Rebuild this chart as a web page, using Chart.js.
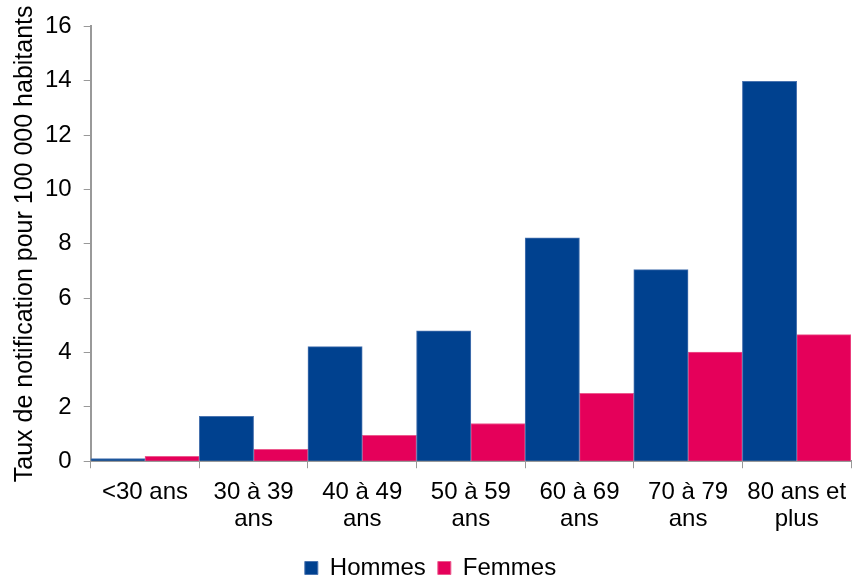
<!DOCTYPE html>
<html>
<head>
<meta charset="utf-8">
<script src="https://cdn.jsdelivr.net/npm/chart.js@4"></script>
<style>
  body { margin: 0; background: #fff; }
  #wrap { width: 852px; height: 577px; }
</style>
</head>
<body>
<div id="wrap"><canvas id="chart" width="852" height="577"></canvas></div>
<script>
// categories and values
const categories = [['<30 ans'], ['30 à 39', 'ans'], ['40 à 49', 'ans'], ['50 à 59', 'ans'], ['60 à 69', 'ans'], ['70 à 79', 'ans'], ['80 ans et', 'plus']];
const hommes = [0.1, 1.65, 4.22, 4.8, 8.22, 7.05, 13.98];
const femmes = [0.18, 0.44, 0.95, 1.39, 2.5, 4.02, 4.66];
const yTicks = [0, 2, 4, 6, 8, 10, 12, 14, 16];

const axisGrey = '#999999';
const fontFamily = 'Arial, "Liberation Sans", sans-serif';

const ctx = document.getElementById('chart');

new Chart(ctx, {
    type: 'bar',
    data: {
        labels: categories,
        datasets: [{
            label: 'Hommes',
            data: hommes,
            backgroundColor: '#00418F',
            borderColor: '#4a74b0',
            borderWidth: 1,
            barPercentage: 1,
            categoryPercentage: 1
        }, {
            label: 'Femmes',
            data: femmes,
            backgroundColor: '#E5005A',
            borderColor: '#ec5a8e',
            borderWidth: 1,
            barPercentage: 1,
            categoryPercentage: 1
        }]
    },
    options: {
        responsive: false,
        animation: false,
        layout: { padding: { top: 5, right: 1, left: 10, bottom: -13 } },
        scales: {
            x: {
                offset: true,
                // labels fit inside their category, no side padding needed
                afterFit: scale => {
                    scale.paddingLeft = 0;
                    scale.paddingRight = 0;
                },
                grid: {
                    display: true,
                    offset: true,
                    drawOnChartArea: false,
                    drawTicks: true,
                    tickLength: 7,
                    color: axisGrey
                },
                border: { color: axisGrey, width: 2 },
                ticks: {
                    color: '#000',
                    font: { family: fontFamily, size: 24, lineHeight: 1.12 },
                    maxRotation: 0,
                    autoSkip: false,
                    padding: 11
                }
            },
            y: {
                min: 0,
                max: 16,
                afterBuildTicks: axis => {
                    axis.ticks = yTicks.map(v => ({ value: v }));
                },
                grid: {
                    display: true,
                    drawOnChartArea: false,
                    drawTicks: true,
                    tickLength: 7,
                    color: axisGrey
                },
                border: { color: axisGrey, width: 2 },
                ticks: {
                    color: '#000',
                    font: { family: fontFamily, size: 24 },
                    padding: 12
                },
                title: {
                    display: true,
                    text: 'Taux de notification pour 100 000 habitants',
                    color: '#000',
                    font: { family: fontFamily, size: 25 },
                    padding: { top: 0, bottom: -7 }
                }
            }
        },
        plugins: {
            legend: {
                position: 'bottom',
                labels: {
                    color: '#000',
                    font: { family: fontFamily, size: 24 },
                    boxWidth: 13,
                    boxHeight: 13,
                    padding: 12
                }
            },
            tooltip: { enabled: false }
        }
    }
});
</script>
</body>
</html>
